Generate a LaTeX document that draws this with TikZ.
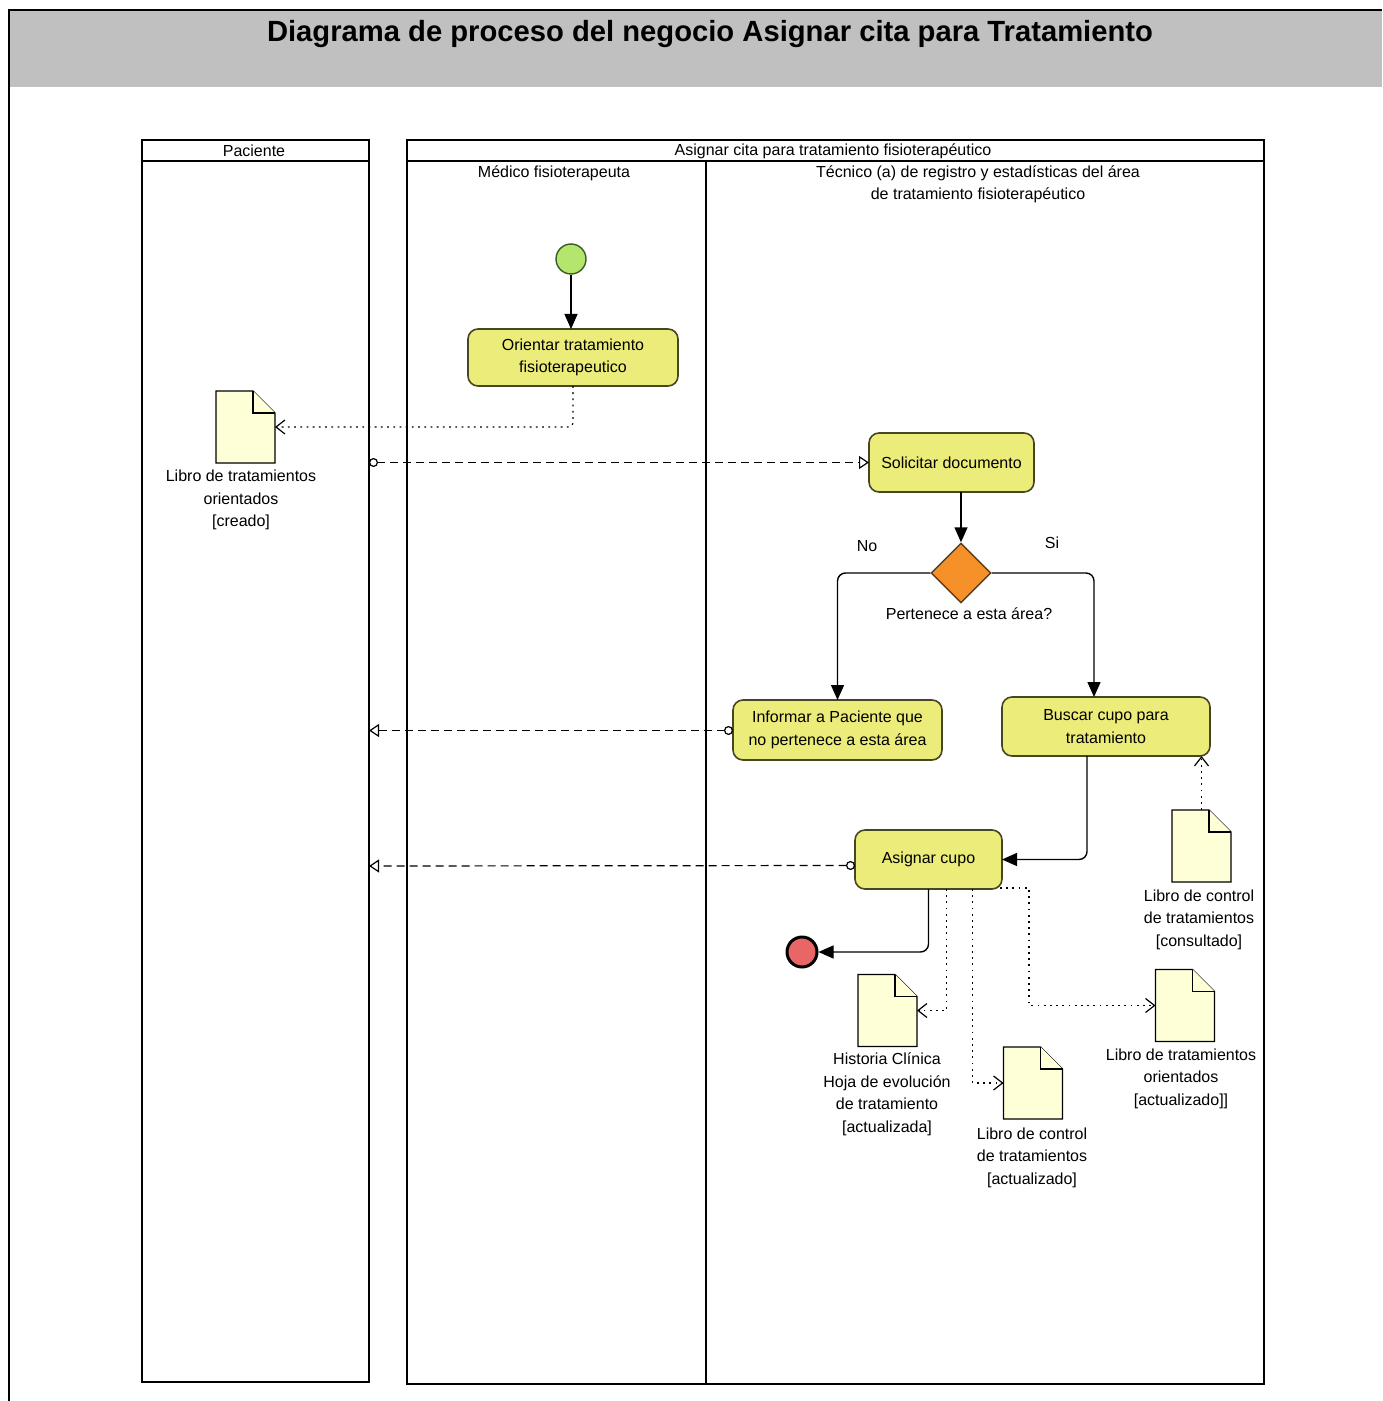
\documentclass[tikz,border=0pt]{standalone}
\usepackage{fontspec}
\setmainfont{Liberation Sans}
\usetikzlibrary{arrows.meta,shapes.geometric,calc}

\definecolor{headgray}{RGB}{192,192,192}
\definecolor{actfill}{RGB}{236,236,122}
\definecolor{actdraw}{RGB}{70,70,35}
\definecolor{docfill}{RGB}{255,255,215}
\definecolor{startfill}{RGB}{180,230,110}
\definecolor{startdraw}{RGB}{60,90,40}
\definecolor{endfill}{RGB}{232,102,102}
\definecolor{decfill}{RGB}{245,145,40}
\definecolor{decdraw}{RGB}{90,60,30}

\newcommand\drawdocshape[1]{%
  \draw[docline] (#1.south west) -- (#1.north west) -- ([xshift=-11pt]#1.north east)
    -- ([yshift=-11pt]#1.north east) -- (#1.south east) -- cycle;
  \draw[docline] ([xshift=-11pt]#1.north east) |- ([yshift=-11pt]#1.north east);
}

\begin{document}
\begin{tikzpicture}[x=0.5pt,y=-0.5pt,
  font=\fontsize{8}{11.25}\selectfont,
  pool/.style={draw=black, line width=0.6pt, inner sep=0pt, outer sep=0pt},
  poolline/.style={draw=black, line width=0.6pt},
  activity/.style={draw=actdraw, fill=actfill, line width=0.8pt, rounded corners=5pt,
    align=center, inner sep=0pt, outer sep=0pt},
  docbox/.style={inner sep=0pt, outer sep=0pt, minimum width=29.5pt, minimum height=36pt},
  docline/.style={draw=black, fill=docfill, line width=0.6pt},
  doclabel/.style={align=center, inner sep=0pt},
  flow/.style={draw=black, line width=0.7pt, rounded corners=4pt,
    -{Triangle[length=7.5pt,width=6.5pt]}},
  objflow/.style={draw=black, line width=0.6pt, dash pattern=on 4pt off 2.5pt,
    {Circle[open,length=4.5pt,width=4.5pt]}-{Triangle[open,length=5pt,width=6.5pt]}},
  depend/.style={draw=black, line width=0.6pt, dash pattern=on 0.9pt off 2.2pt,
    -{Straight Barb[length=4.5pt,width=7pt]}},
]
\useasboundingbox (0,0) rectangle (1382,1401);

% outer frame and title band
\fill[headgray] (10,11) rectangle (1382,87);
\draw[line width=1pt] (9,1401) -- (9,10) -- (1382,10);
\node[font=\fontsize{14.6}{17}\selectfont\bfseries] (title) at (710,34)
  {Diagrama de proceso del negocio Asignar cita para Tratamiento};

% pools
\node[pool, minimum width=113.5pt, minimum height=621pt] (paciente) at (255.5,761) {};
\node[pool, minimum width=428.5pt, minimum height=622pt] (asigpool) at (835.5,762) {};
\draw[poolline] (142,161) -- (369,161);
\draw[line width=1pt] (407,161) -- (1264,161);
\draw[line width=1pt] (1264,140) -- (1264,1384);
\draw[poolline] (706,161) -- (706,1384);
\draw[line width=0.8pt] (142,1382) -- (369,1382);
\draw[line width=0.8pt] (407,1384) -- (1264,1384);

\node (lpac) at (254,151) {Paciente};
\node (lasig) at (833,151) {Asignar cita para tratamiento fisioterapéutico};
\node (lmed) at (554,173) {Médico fisioterapeuta};
\node[align=center] (ltec) at (978,184.5) {Técnico (a) de registro y estadísticas del área\\de tratamiento fisioterapéutico};

% activity nodes
\node[circle, draw=startdraw, fill=startfill, line width=0.7pt, minimum size=15pt, inner sep=0pt] (start) at (571,259) {};
\node[activity, minimum width=105pt, minimum height=28.5pt] (orient) at (573,357.5) {Orientar tratamiento\\fisioterapeutico};
\node[activity, minimum width=82.5pt, minimum height=29.5pt] (solic) at (951.5,462.5) {Solicitar documento};
\node[diamond, draw=decdraw, fill=decfill, line width=0.7pt, minimum width=30pt, minimum height=30pt, inner sep=0pt, aspect=1] (dec) at (961,573) {};
\node (lno) at (867,546) {No};
\node (lsi) at (1052,543) {Si};
\node (ldec) at (969,614) {Pertenece a esta área?};
\node[activity, minimum width=104.5pt, minimum height=30pt] (inform) at (837.5,730) {Informar a Paciente que\\no pertenece a esta área};
\node[activity, minimum width=104pt, minimum height=29.5pt] (buscar) at (1106,726.5) {Buscar cupo para\\tratamiento};
\node[activity, minimum width=73.5pt, minimum height=29.5pt] (asignar) at (928.5,859.5) {Asignar cupo};
\node[circle, draw=black, fill=endfill, line width=1.5pt, minimum size=15pt, inner sep=0pt] (end) at (802,952) {};

% documents
\node[docbox] (doc1) at (245.5,427) {};
\drawdocshape{doc1}
\node[doclabel] (doc1l) at (241,500) {Libro de tratamientos\\orientados\\{[creado]}};

\node[docbox] (docc) at (1201.5,846) {};
\drawdocshape{docc}
\node[doclabel] (doccl) at (1199,919.5) {Libro de control\\de tratamientos\\{[consultado]}};

\node[docbox] (hist) at (887.5,1010.5) {};
\drawdocshape{hist}
\node[doclabel] (histl) at (887,1094.5) {Historia Clínica\\Hoja de evolución\\de tratamiento\\{[actualizada]}};

\node[docbox] (ctrl) at (1033,1083) {};
\drawdocshape{ctrl}
\node[doclabel] (ctrll) at (1032,1157.5) {Libro de control\\de tratamientos\\{[actualizado]}};

\node[docbox] (oract) at (1185,1005.5) {};
\drawdocshape{oract}
\node[doclabel] (oractl) at (1181,1078.5) {Libro de tratamientos\\orientados\\{[actualizado]]}};

% control flows
\draw[flow] (start) -- (start |- orient.north);
\draw[flow] (solic.south -| dec.north) -- (dec.north);
\draw[flow] (dec.west) -| (inform.north);
\draw[flow] (dec.east) -| ([xshift=-6pt]buscar.north);
\draw[flow] ([xshift=-9.5pt]buscar.south) |- (asignar.east);
\draw[flow] (asignar.south) |- (end.east);

% object flows
\draw[depend, rounded corners=2pt] (orient.south) |- (doc1.east);
\draw[objflow] (paciente.east |- solic.west) -- (solic.west);
\draw[objflow] ([yshift=-0.25pt]inform.west) -- (paciente.east |- 0,730.5);
\draw[objflow] ([yshift=-3pt]asignar.west) -- (paciente.east |- 0,866);
\draw[depend] (docc.north) -- (docc.north |- buscar.south);
\draw[depend] ([xshift=9pt]asignar.south) |- (hist.east);
\draw[depend] ([xshift=22pt]asignar.south) |- (ctrl.west);
\coordinate (kbend) at (1029,888);
\draw[depend] ([xshift=-1pt,yshift=0.5pt]asignar.south east) -- (kbend) |- (oract.west);
\end{tikzpicture}
\end{document}
